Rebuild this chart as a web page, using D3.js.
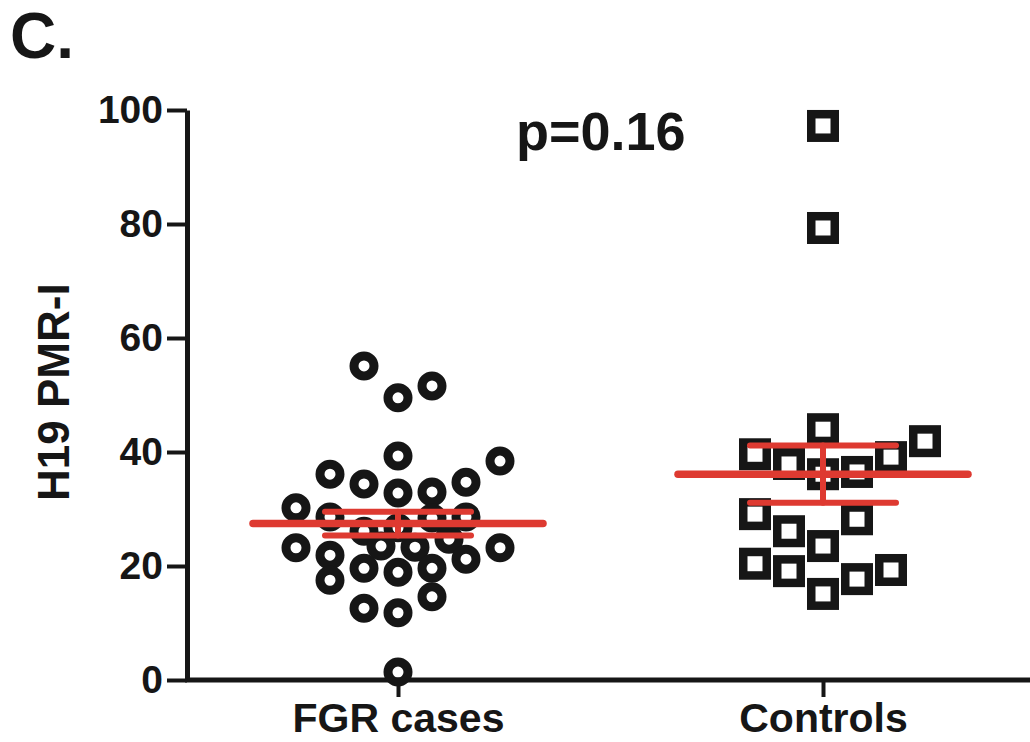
<!DOCTYPE html>
<html>
<head>
<meta charset="utf-8">
<script src="https://cdn.jsdelivr.net/npm/d3@7"></script>
<style>
body { margin:0; background:#fff; }
text { font-family:"Liberation Sans", Arial, sans-serif; font-weight:bold; fill:#161616; }
</style>
</head>
<body>
<script>
var groups = ["FGR cases", "Controls"];

// H19 PMR-I values
var fgrValues = [55.1,49.5,51.6,39.3,36.1,38.4,34.4,32.8,33.0,34.7,30.2,28.6,26.1,26.7,28.4,28.6,
                 23.2,21.9,23.5,23.3,24.7,23.2,17.5,19.6,18.9,19.6,21.2,12.6,11.8,14.6,1.4];
// column in the scatter (half-symbol steps left/right of the group centre)
var fgrSlots  = [-2,0,2,0,-4,6,-2,0,2,4,-6,-4,-2,0,2,4,
                 -6,-4,-1,1,3,6,-4,-2,0,2,4,-2,0,2,0];

var ctrlValues = [97.2,79.3,44.0,39.6,37.9,36.1,36.5,39.1,41.9,29.1,26.1,28.2,23.5,20.4,19.1,15.1,17.7,19.3];
var ctrlSlots  = [0,0,0,-4,-2,0,2,4,6,-4,-2,2,0,-4,-2,0,2,4];

var yTicks = [0,20,40,60,80,100];
var pText = "p=0.16";

var width = 1030, height = 742;
var plotLeft = 187, plotRight = 1030, plotBottom = 680, plotTop = 110;
var ink = "#161616", red = "#de3a31";

var svg = d3.select("body").append("svg")
    .attr("width", width).attr("height", height);

var y = d3.scaleLinear().domain([0, 100]).range([plotBottom, plotTop]);
var x = d3.scalePoint().domain(groups).range([398, 823]);
var slot = d3.scaleLinear().domain([0, 1]).range([0, 17]);

// y axis
var gy = svg.append("g").attr("transform", "translate(" + plotLeft + ",0)")
    .call(d3.axisLeft(y).tickValues(yTicks).tickSize(20).tickSizeOuter(0).tickPadding(4));
gy.select(".domain").attr("stroke", ink).attr("stroke-width", 5);
gy.selectAll(".tick line").attr("stroke", ink).attr("stroke-width", 4);
gy.selectAll(".tick text").attr("font-size", 39).attr("font-family", null).attr("fill", ink);

// x axis
var gx = svg.append("g").attr("transform", "translate(0," + plotBottom + ")")
    .call(d3.axisBottom(x).tickSize(17).tickSizeOuter(0).tickPadding(6));
gx.select(".domain").attr("d", "M" + (plotLeft - 2) + ",0H" + plotRight)
    .attr("stroke", ink).attr("stroke-width", 5);
gx.selectAll(".tick line").attr("stroke", ink).attr("stroke-width", 4);
gx.selectAll(".tick text").attr("font-size", 41).attr("font-family", null).attr("fill", ink);

// labels
svg.append("text").attr("x", 10).attr("y", 58).attr("font-size", 64).text("C.");
svg.append("text").attr("transform", "translate(69," + y(50.5) + ") rotate(-90)")
    .attr("text-anchor", "middle").attr("font-size", 44).text("H19 PMR-I");
svg.append("text").attr("x", 516).attr("y", 150).attr("font-size", 54).text(pText);

// points
svg.append("g").selectAll("circle")
    .data(fgrValues).join("circle")
    .attr("cx", function(d, i){ return x("FGR cases") + slot(fgrSlots[i]); })
    .attr("cy", function(d){ return y(d); })
    .attr("r", 10)
    .attr("fill", "none").attr("stroke", ink).attr("stroke-width", 9);

var side = 23.5;
svg.append("g").selectAll("rect")
    .data(ctrlValues).join("rect")
    .attr("x", function(d, i){ return x("Controls") + slot(ctrlSlots[i]) - side / 2; })
    .attr("y", function(d){ return y(d) - side / 2; })
    .attr("width", side).attr("height", side)
    .attr("fill", "none").attr("stroke", ink).attr("stroke-width", 8.5);

// mean +/- SEM
var stats = [
  {g: "FGR cases", v: fgrValues},
  {g: "Controls", v: ctrlValues}
].map(function(s){
  var m = d3.mean(s.v), se = d3.deviation(s.v) / Math.sqrt(s.v.length);
  return {g: s.g, mean: m, lo: m - se, hi: m + se};
});

var gs = svg.append("g").attr("stroke", red).attr("stroke-linecap", "round");
stats.forEach(function(s){
  var cx = x(s.g);
  gs.append("line").attr("x1", cx).attr("x2", cx)
    .attr("y1", y(s.lo)).attr("y2", y(s.hi)).attr("stroke-width", 6);
  [s.lo, s.hi].forEach(function(v){
    gs.append("line").attr("x1", cx - 73).attr("x2", cx + 73)
      .attr("y1", y(v)).attr("y2", y(v)).attr("stroke-width", 6);
  });
  gs.append("line").attr("x1", cx - 145).attr("x2", cx + 145)
    .attr("y1", y(s.mean)).attr("y2", y(s.mean)).attr("stroke-width", 7.5);
});
</script>
</body>
</html>
